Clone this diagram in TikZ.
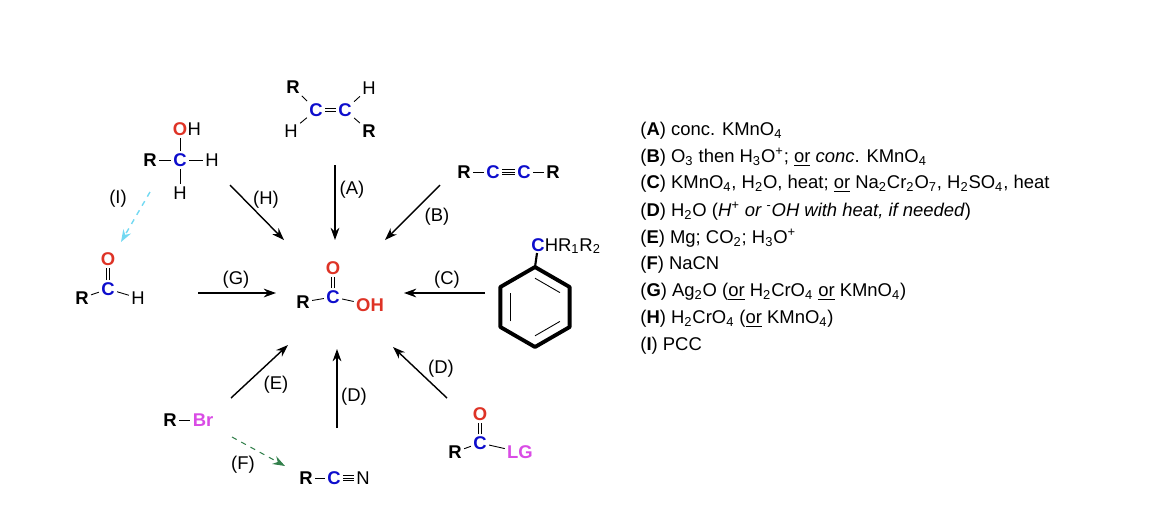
\documentclass[tikz,border=0pt]{standalone}
\usepackage{fontspec}
\setmainfont{Liberation Sans}
\usetikzlibrary{arrows.meta,calc,positioning}
\definecolor{cblue}{rgb}{0.05,0.05,0.8}
\definecolor{ored}{rgb}{0.87,0.2,0.15}
\definecolor{lgpink}{rgb}{0.85,0.3,0.9}
\definecolor{fgreen}{rgb}{0.2,0.5,0.3}
\definecolor{icyan}{rgb}{0.45,0.85,0.95}
\def\sub(#1){\textsubscript{#1}}
\tikzset{
  atm/.style={inner sep=1.2pt, font=\fontsize{10.5}{12}\selectfont},
  bond/.style={line width=0.5pt},
  rxn/.style={-{Stealth[length=7pt,width=5pt]}, line width=0.8pt},
  lbl/.style={font=\fontsize{10.5}{12}\selectfont},
  leg/.style={anchor=west, font=\fontsize{10.5}{12}\selectfont, inner sep=0pt}
}
\begin{document}
\begin{tikzpicture}[x=0.02cm,y=-0.02cm]
\useasboundingbox (0,0) rectangle (1170,529);
% central acid
\node[atm] (pR) at (303,302) {\textbf{R}};
\node[atm,text=cblue] (pC) at (333,297) {\textbf{C}};
\node[atm,text=ored] (pO) at (333,268) {\textbf{O}};
\node[atm,text=ored] (pOH) at (370,305) {\textbf{OH}};
\draw[bond] (pR)--(pC); \draw[bond] (pC)--(pOH);
\draw[bond] ($(pC.north)+(-1.5,0)$)--($(pO.south)+(-1.5,0)$);
\draw[bond] ($(pC.north)+(1.5,0)$)--($(pO.south)+(1.5,0)$);
% alkene
\node[atm] (aR1) at (293,87) {\textbf{R}};
\node[atm,text=cblue] (aC1) at (316,110) {\textbf{C}};
\node[atm,text=cblue] (aC2) at (345,110) {\textbf{C}};
\node[atm] (aH1) at (369,88) {H};
\node[atm] (aH2) at (291,131) {H};
\node[atm] (aR2) at (369,131) {\textbf{R}};
\draw[bond] (aR1)--(aC1); \draw[bond] (aH2)--(aC1);
\draw[bond] (aC2)--(aH1); \draw[bond] (aC2)--(aR2);
\draw[bond] ($(aC1.east)+(0,-1.5)$)--($(aC2.west)+(0,-1.5)$);
\draw[bond] ($(aC1.east)+(0,1.5)$)--($(aC2.west)+(0,1.5)$);
% alcohol
\node[atm,text=ored] (lO) at (180,129) {\textbf{O}};
\node[atm,right=-2.6pt of lO] (lOH) {H};
\node[atm] (lR) at (150,160) {\textbf{R}};
\node[atm,text=cblue] (lC) at (180,160) {\textbf{C}};
\node[atm] (lH1) at (212,160) {H};
\node[atm] (lH2) at (180,193) {H};
\draw[bond] (lR)--(lC); \draw[bond] (lC)--(lH1);
\draw[bond] (lC)--(lO); \draw[bond] (lC)--(lH2);
% aldehyde
\node[atm,text=ored] (dO) at (108,259) {\textbf{O}};
\node[atm,text=cblue] (dC) at (108,289) {\textbf{C}};
\node[atm] (dR) at (82,298) {\textbf{R}};
\node[atm] (dH) at (138,298) {H};
\draw[bond] (dR)--(dC); \draw[bond] (dC)--(dH);
\draw[bond] ($(dC.north)+(-1.5,0)$)--($(dO.south)+(-1.5,0)$);
\draw[bond] ($(dC.north)+(1.5,0)$)--($(dO.south)+(1.5,0)$);
% alkyne
\node[atm] (yR1) at (464,172) {\textbf{R}};
\node[atm,text=cblue] (yC1) at (493,172) {\textbf{C}};
\node[atm,text=cblue] (yC2) at (524,172) {\textbf{C}};
\node[atm] (yR2) at (553,172) {\textbf{R}};
\draw[bond] (yR1)--(yC1); \draw[bond] (yC2)--(yR2);
\foreach \d in {-2.2,0,2.2}
  \draw[bond] ($(yC1.east)+(0,\d)$)--($(yC2.west)+(0,\d)$);
% benzylic arene
\coordinate (bz) at (535,307);
\draw[line width=2.2pt, line join=round] ($(bz)+(-90:40)$) \foreach \a in {-30,30,90,150,210} { -- ($(bz)+(\a:40)$) } -- cycle;
\foreach \a in {-90,30,150}
  \draw[bond] ($(bz)!0.72!($(bz)+(\a:40)$)$) -- ($(bz)!0.72!($(bz)+(\a+60:40)$)$);
\node[atm,anchor=west] (bC) at (529,246) {\textcolor{cblue}{\textbf{C}}HR\sub(1)R\sub(2)};
\draw[line width=1.2pt] ($(bz)+(-90:40)$) -- ($(bC.west)+(8,7)$);
% alkyl bromide
\node[atm] (rR) at (170,420) {\textbf{R}};
\node[atm,text=lgpink] (rBr) at (203,420) {\textbf{Br}};
\draw[bond] (rR)--(rBr);
% nitrile
\node[atm] (nR) at (306,478) {\textbf{R}};
\node[atm,text=cblue] (nC) at (334,478) {\textbf{C}};
\node[atm] (nN) at (363,478) {N};
\draw[bond] (nR)--(nC);
\foreach \d in {-2.2,0,2.2}
  \draw[bond] ($(nC.east)+(0,\d)$)--($(nN.west)+(0,\d)$);
% acyl LG
\node[atm,text=ored] (gO) at (480,414) {\textbf{O}};
\node[atm,text=cblue] (gC) at (480,443) {\textbf{C}};
\node[atm] (gR) at (455,452) {\textbf{R}};
\node[atm,text=lgpink] (gLG) at (520,452) {\textbf{LG}};
\draw[bond] (gR)--(gC); \draw[bond] (gC)--(gLG);
\draw[bond] ($(gC.north)+(-1.5,0)$)--($(gO.south)+(-1.5,0)$);
\draw[bond] ($(gC.north)+(1.5,0)$)--($(gO.south)+(1.5,0)$);
% reaction arrows
\coordinate (tA1) at (335,165); \coordinate (tA2) at (335,240);
\coordinate (tB1) at (440,185); \coordinate (tB2) at (385,240);
\coordinate (tH1) at (230,185); \coordinate (tH2) at (284,240);
\coordinate (tG1) at (198,293); \coordinate (tG2) at (276,293);
\coordinate (tC1) at (485,293); \coordinate (tC2) at (404,293);
\coordinate (tE1) at (231,398); \coordinate (tE2) at (288,345);
\coordinate (tD1) at (337,428); \coordinate (tD2) at (337,349);
\coordinate (tK1) at (447,398); \coordinate (tK2) at (393,347);
\coordinate (tF1) at (232,437); \coordinate (tF2) at (285,466);
\coordinate (tI1) at (150,192); \coordinate (tI2) at (121,242);
\draw[rxn] (tA1)--(tA2); \node[lbl] (lA) at (352,190) {(A)};
\draw[rxn] (tB1)--(tB2); \node[lbl] (lB) at (437,217) {(B)};
\draw[rxn] (tH1)--(tH2); \node[lbl] (lH) at (266,200) {(H)};
\draw[rxn] (tG1)--(tG2); \node[lbl] (lG) at (236,280) {(G)};
\draw[rxn] (tC1)--(tC2); \node[lbl] (lC2) at (447,280) {(C)};
\draw[rxn] (tE1)--(tE2); \node[lbl] (lE) at (276,385) {(E)};
\draw[rxn] (tD1)--(tD2); \node[lbl] (lD) at (354,397) {(D)};
\draw[rxn] (tK1)--(tK2); \node[lbl] (lK) at (441,369) {(D)};
\draw[rxn,fgreen,dashed,line width=0.6pt] (tF1)--(tF2); \node[lbl] (lF) at (243,465) {(F)};
\draw[rxn,icyan,dashed,line width=0.8pt] (tI1)--(tI2); \node[lbl] (lI) at (118,199) {(I)};
% legend
\node[leg] (gA) at (640,131) {(\textbf{A}) conc. KMnO\sub(4)};
\node[leg] (gB) at (640,157) {(\textbf{B}) O\sub(3) then H\sub(3)O\textsuperscript{+}; \underline{or} \textit{conc}. KMnO\sub(4)};
\node[leg] (gC3) at (640,184) {(\textbf{C}) KMnO\sub(4), H\sub(2)O, heat; \underline{or} Na\sub(2)Cr\sub(2)O\sub(7), H\sub(2)SO\sub(4), heat};
\node[leg] (gD) at (640,211) {(\textbf{D}) H\sub(2)O (\textit{H\textsuperscript{+} or \textsuperscript{-}OH with heat, if needed})};
\node[leg] (gE) at (640,238) {(\textbf{E}) Mg; CO\sub(2); H\sub(3)O\textsuperscript{+}};
\node[leg] (gF) at (640,265) {(\textbf{F}) NaCN};
\node[leg] (gG) at (640,292) {(\textbf{G}) Ag\sub(2)O (\underline{or} H\sub(2)CrO\sub(4) \underline{or} KMnO\sub(4))};
\node[leg] (gH) at (640,319) {(\textbf{H}) H\sub(2)CrO\sub(4) (\underline{or} KMnO\sub(4))};
\node[leg] (gI) at (640,346) {(\textbf{I}) PCC};
\end{tikzpicture}
\end{document}
